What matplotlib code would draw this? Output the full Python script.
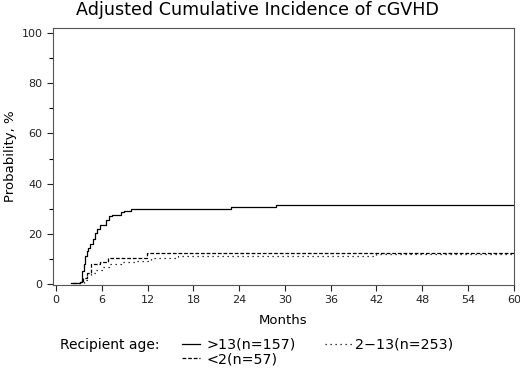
#!/usr/bin/env python3
# -*- coding: utf-8 -*-
"""Adjusted cumulative incidence of cGVHD by recipient age"""

import matplotlib
matplotlib.use("Agg")
import matplotlib.pyplot as plt
from matplotlib.lines import Line2D

# step curves (months, %)
months_gt13 = [2.0, 3.1, 3.4, 3.6, 3.8, 4.0, 4.2, 4.5, 4.8, 5.1, 5.4, 5.7, 6.6, 6.9, 7.3, 8.5, 8.9, 9.8, 22.9, 28.8, 60.0]
prob_gt13 = [0.5, 1.0, 5.0, 8.0, 11.0, 13.0, 14.5, 16.0, 18.0, 20.5, 22.0, 23.5, 25.5, 27.0, 27.5, 28.5, 29.2, 29.8, 30.5, 31.4, 31.4]

months_2_13 = [3.0, 3.6, 4.0, 4.6, 5.2, 6.0, 7.0, 8.5, 10.5, 12.5, 16.0, 42.0, 60.0]
prob_2_13 = [0.3, 1.5, 3.5, 4.5, 5.6, 6.8, 7.8, 8.6, 9.3, 10.2, 11.2, 11.8, 12.2]

months_lt2 = [2.2, 3.1, 3.5, 4.0, 4.6, 5.8, 6.8, 11.9, 60.0]
prob_lt2 = [0.5, 1.0, 2.5, 4.5, 7.8, 8.9, 10.5, 12.2, 12.2]

x_ticks = list(range(0, 61, 6))
y_ticks = [0, 20, 40, 60, 80, 100]

plt.rcParams['font.family'] = ['DejaVu Sans']

fig = plt.figure(figsize=(5.2, 3.68), dpi=100)
ax = fig.add_axes([0.102, 0.2255, 0.886, 0.6985])

lw = 0.9
ax.step(months_gt13, prob_gt13, where='post', color='black', lw=lw)
ax.step(months_2_13, prob_2_13, where='post', color='black', lw=lw, linestyle=(0, (1, 3)))
ax.step(months_lt2, prob_lt2, where='post', color='black', lw=lw, linestyle=(0, (3, 1.5)))

ax.set_xlim(-0.4, 60)
ax.set_ylim(-0.4, 102)
ax.set_xticks(x_ticks)
ax.set_yticks(y_ticks)
ax.set_yticks(range(10, 100, 20), minor=True)
ax.tick_params(direction='out', length=4, width=0.8, labelsize=8, colors='#222222')
ax.tick_params(which='minor', direction='out', length=3, width=0.8)
for sp in ax.spines.values():
    sp.set_linewidth(0.8)
    sp.set_color('#555555')

ax.set_xlabel('Months', fontsize=9.5, labelpad=6)
ax.set_ylabel('Probability, %', fontsize=9.5, labelpad=3)
fig.text(0.496, 0.972, 'Adjusted Cumulative Incidence of cGVHD', ha='center', va='center', fontsize=12.6)

# legend, drawn by hand like the original
leg_fs = 10.3
fig.text(0.115, 0.063, 'Recipient age:', fontsize=10, va='center')
fig.add_artist(Line2D([0.35, 0.385], [0.066, 0.066], color='black', lw=lw))
fig.text(0.397, 0.063, '>13(n=157)', fontsize=leg_fs, va='center')
fig.add_artist(Line2D([0.625, 0.677], [0.066, 0.066], color='black', lw=lw, linestyle=(0, (1, 3))))
fig.text(0.683, 0.063, '2\u221213(n=253)', fontsize=leg_fs, va='center')
fig.add_artist(Line2D([0.35, 0.385], [0.027, 0.027], color='black', lw=lw, linestyle=(0, (3, 1.5))))
fig.text(0.397, 0.024, '<2(n=57)', fontsize=leg_fs, va='center')

plt.savefig('out.png', dpi=100)
